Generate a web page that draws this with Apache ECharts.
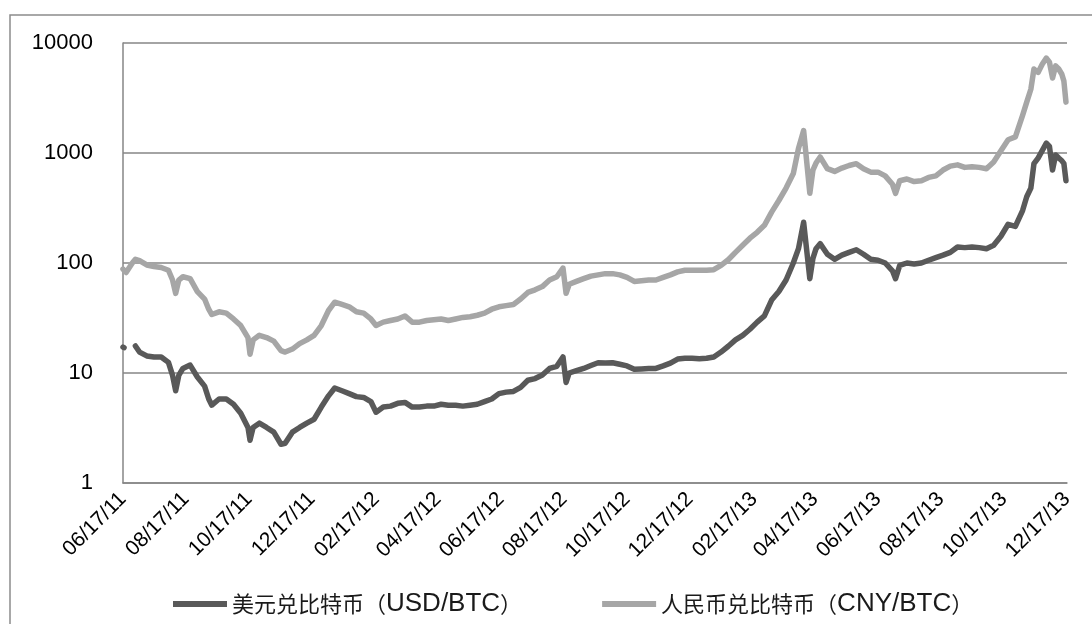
<!DOCTYPE html>
<html>
<head>
<meta charset="utf-8">
<script src="https://cdn.jsdelivr.net/npm/echarts@6/dist/echarts.min.js"></script>
<style>
  html, body { margin: 0; padding: 0; background: #fff; }
  #chart { width: 1092px; height: 624px; }
</style>
</head>
<body>
<div id="chart"></div>
<script>
// Sample dates (shared by both series)
const dates = [
  '2011-06-17','2011-06-18','2011-06-20','2011-06-26','2011-06-29',
  '2011-07-03','2011-07-10','2011-07-17','2011-07-24','2011-07-31',
  '2011-08-04','2011-08-07','2011-08-10','2011-08-14','2011-08-21','2011-08-28',
  '2011-09-04','2011-09-08','2011-09-11','2011-09-18','2011-09-25',
  '2011-10-02','2011-10-09','2011-10-16','2011-10-18','2011-10-21','2011-10-27',
  '2011-11-03','2011-11-10','2011-11-17','2011-11-21','2011-11-28',
  '2011-12-05','2011-12-12','2011-12-19','2011-12-26',
  '2012-01-02','2012-01-08','2012-01-15','2012-01-22','2012-01-29',
  '2012-02-05','2012-02-12','2012-02-17','2012-02-24',
  '2012-03-02','2012-03-09','2012-03-16','2012-03-23','2012-03-30',
  '2012-04-06','2012-04-13','2012-04-20','2012-04-27',
  '2012-05-04','2012-05-11','2012-05-18','2012-05-25',
  '2012-06-01','2012-06-08','2012-06-15','2012-06-22','2012-06-29',
  '2012-07-06','2012-07-13','2012-07-20','2012-07-27',
  '2012-08-03','2012-08-10','2012-08-16','2012-08-19','2012-08-22','2012-08-29',
  '2012-09-05','2012-09-12','2012-09-19','2012-09-26',
  '2012-10-03','2012-10-10','2012-10-17','2012-10-24','2012-10-31',
  '2012-11-07','2012-11-14','2012-11-21','2012-11-28',
  '2012-12-05','2012-12-12','2012-12-19','2012-12-26',
  '2013-01-02','2013-01-09','2013-01-16','2013-01-23','2013-01-30',
  '2013-02-06','2013-02-13','2013-02-20','2013-02-27',
  '2013-03-06','2013-03-13','2013-03-20','2013-03-27',
  '2013-04-01','2013-04-06','2013-04-12','2013-04-15','2013-04-18','2013-04-22','2013-04-29',
  '2013-05-06','2013-05-13','2013-05-20','2013-05-27',
  '2013-06-03','2013-06-10','2013-06-17','2013-06-24',
  '2013-07-01','2013-07-04','2013-07-08','2013-07-15','2013-07-22','2013-07-29',
  '2013-08-05','2013-08-12','2013-08-19','2013-08-26',
  '2013-09-02','2013-09-09','2013-09-16','2013-09-23','2013-09-30',
  '2013-10-07','2013-10-14','2013-10-21','2013-10-28',
  '2013-11-04','2013-11-08','2013-11-12','2013-11-15','2013-11-19','2013-11-23','2013-11-27','2013-11-30',
  '2013-12-03','2013-12-06','2013-12-09','2013-12-12','2013-12-14','2013-12-16'
];

// 美元兑比特币 (USD/BTC)
const usd = [
  17.2, 17.0, null, null, 17.6,
  15.5, 14.3, 14.0, 14.0, 12.5,
  9.5, 6.9, 9.5, 11.0, 11.8, 9.2,
  7.6, 5.8, 5.1, 5.8, 5.8,
  5.2, 4.3, 3.2, 2.45, 3.2, 3.5,
  3.2, 2.9, 2.25, 2.3, 2.9,
  3.2, 3.5, 3.8, 4.9,
  6.2, 7.3, 6.9, 6.5, 6.1,
  6.0, 5.5, 4.4, 4.9,
  5.0, 5.3, 5.4, 4.9, 4.9,
  5.0, 5.0, 5.2, 5.1,
  5.1, 5.0, 5.1, 5.2,
  5.5, 5.8, 6.5, 6.7, 6.8,
  7.4, 8.6, 8.9, 9.6,
  11.0, 11.5, 14.0, 8.2, 10.0, 10.5,
  11.0, 11.7, 12.4, 12.3,
  12.4, 12.0, 11.6, 10.8, 10.9,
  11.0, 11.0, 11.6, 12.3,
  13.4, 13.6, 13.6, 13.5,
  13.6, 14.0, 15.5, 17.5, 20,
  22, 25, 29, 33,
  46, 55, 70, 100,
  135, 235, 72, 110, 135, 150, 120,
  108, 118, 125, 132,
  120, 108, 106, 100,
  85, 72, 95, 100, 98, 100,
  106, 112, 118, 125,
  140, 138, 140, 138, 135,
  145, 175, 225, 215,
  300, 400, 480, 800, 900, 1050, 1230, 1150,
  700, 960, 900, 850, 800, 560
];

// 人民币兑比特币 (CNY/BTC)
const cny = [
  88, 90, 82, 100, 108,
  105, 96, 93, 91, 86,
  70, 53, 70, 75, 72, 55,
  47, 38, 34, 36, 35,
  31, 27, 21, 14.8, 20, 22,
  21, 19.5, 16, 15.5, 16.5,
  18.5, 20, 22, 27,
  37, 44, 42, 40, 36,
  35, 31, 27, 29,
  30, 31, 33, 29, 29,
  30, 30.5, 31, 30,
  31, 32, 32.5, 33.5,
  35, 38, 40, 41, 42,
  47, 54, 57, 61,
  70, 75, 90, 53, 64, 68,
  72, 76, 78, 80,
  80, 78, 74, 68, 69,
  70, 70, 74, 78,
  83, 86, 86, 86,
  86, 87, 95, 107, 125,
  145, 168, 190, 220,
  290, 370, 480, 650,
  1100, 1600, 430, 700, 810, 920, 720,
  680, 730, 770, 800,
  720, 670, 670, 620,
  520, 430, 560, 580, 550, 560,
  600, 620, 700, 760,
  780, 740, 750, 740, 720,
  830, 1050, 1320, 1400,
  2200, 2900, 3800, 5800, 5400, 6400, 7300, 6700,
  4800, 6200, 5800, 5200, 4500, 2900
];

// X tick labels
const xTicks = [
  '2011-06-17','2011-08-17','2011-10-17','2011-12-17',
  '2012-02-17','2012-04-17','2012-06-17','2012-08-17','2012-10-17','2012-12-17',
  '2013-02-17','2013-04-17','2013-06-17','2013-08-17','2013-10-17','2013-12-17'
];
const yTicks = [1, 10, 100, 1000, 10000];

const seriesNames = ['美元兑比特币（USD/BTC）', '人民币兑比特币（CNY/BTC）'];

const DAY = 86400000;
function utc(s) {
  const p = s.split('-').map(Number);
  return Date.UTC(p[0], p[1] - 1, p[2]);
}
const t0 = utc(xTicks[0]);
function dayOf(s) { return Math.round((utc(s) - t0) / DAY); }
function pad(n) { return (n < 10 ? '0' : '') + n; }
function labelOf(day) {
  const d = new Date(t0 + day * DAY);
  return pad(d.getUTCMonth() + 1) + '/' + pad(d.getUTCDate()) + '/' + pad(d.getUTCFullYear() % 100);
}

const chart = echarts.init(document.getElementById('chart'), null, { renderer: 'canvas' });
const gridColor = '#868686';
const latin = 'Liberation Sans';
const cjk = 'Noto Sans CJK SC';

chart.setOption({
  animation: false,
  backgroundColor: '#ffffff',
  graphic: [{
    type: 'rect',
    shape: { x: 10, y: 15, width: 1200, height: 700 },
    style: { fill: 'none', stroke: '#8c8c8c', lineWidth: 1.5 },
    silent: true
  }],
  grid: { left: 123, right: 25, top: 43, bottom: 141, containLabel: false },
  legend: {
    left: 168,
    top: 586,
    icon: 'rect',
    itemWidth: 54,
    itemHeight: 6,
    itemGap: 80,
    textStyle: {
      fontFamily: cjk, fontSize: 22, color: '#1a1a1a',
      rich: {
        c: { fontFamily: cjk, fontSize: 22, color: '#1a1a1a' },
        l: { fontFamily: latin, fontSize: 26, color: '#1a1a1a' }
      }
    },
    formatter: function (name) {
      const m = name.match(/^(.*（)(.*)(）)$/);
      return '{c|' + m[1] + '}{l|' + m[2] + '}{c|' + m[3] + '}';
    },
    data: seriesNames
  },
  xAxis: {
    type: 'value',
    min: 0,
    max: dayOf(xTicks[xTicks.length - 1]),
    axisLine: { show: true, lineStyle: { color: gridColor, width: 1.5 } },
    axisTick: { show: false },
    splitLine: { show: false },
    axisLabel: {
      customValues: xTicks.map(dayOf),
      rotate: 45,
      margin: 13,
      fontFamily: latin,
      fontSize: 21,
      color: '#000',
      hideOverlap: false,
      formatter: function (v) { return labelOf(v); }
    }
  },
  yAxis: {
    type: 'log',
    logBase: 10,
    min: yTicks[0],
    max: yTicks[yTicks.length - 1],
    axisLine: { show: true, lineStyle: { color: gridColor, width: 1.5 } },
    axisTick: { show: false },
    splitLine: { show: true, lineStyle: { color: gridColor, width: 1.5 } },
    axisLabel: {
      margin: 30,
      fontFamily: latin,
      fontSize: 22,
      color: '#000',
      formatter: function (v) { return String(Math.round(v)); }
    }
  },
  series: [
    {
      name: seriesNames[0],
      type: 'line',
      showSymbol: false,
      connectNulls: false,
      color: '#595959',
      lineStyle: { color: '#595959', width: 5.5, cap: 'round', join: 'round' },
      data: dates.map((d, i) => [dayOf(d), usd[i]]),
      z: 3
    },
    {
      name: seriesNames[1],
      type: 'line',
      showSymbol: false,
      color: '#a6a6a6',
      lineStyle: { color: '#a6a6a6', width: 5.5, cap: 'round', join: 'round' },
      data: dates.map((d, i) => [dayOf(d), cny[i]]),
      z: 2
    }
  ]
});
</script>
</body>
</html>
